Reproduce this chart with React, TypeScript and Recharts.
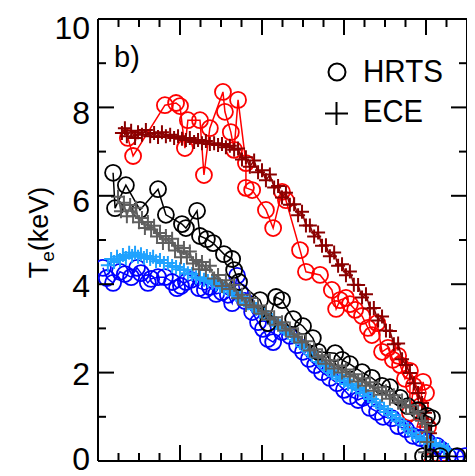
import React from 'react';
import { ScatterChart, Scatter, XAxis, YAxis } from 'recharts';

// normalised radius (rho) ticks — unlabeled, majors every 0.25
const rhoTicks = [0, 0.0625, 0.125, 0.1875, 0.25, 0.3125, 0.375, 0.4375, 0.5, 0.5625, 0.625, 0.6875, 0.75, 0.8125, 0.875, 0.9375, 1.0, 1.0625, 1.125];
const teTicks = [0, 1, 2, 3, 4, 5, 6, 7, 8, 9, 10];

// [rho, Te (keV)]
const hrtsRed: [number, number][] = [
  [0.091, 7.31], [0.107, 6.90], [0.204, 8.05], [0.238, 8.10], [0.250, 8.03], [0.265, 7.08], [0.274, 7.71],
  [0.311, 7.71], [0.323, 6.47], [0.341, 7.53], [0.381, 8.35], [0.387, 7.90], [0.405, 7.44], [0.415, 7.04],
  [0.427, 8.17], [0.451, 6.74], [0.451, 6.18], [0.470, 6.13], [0.512, 5.68], [0.534, 5.27], [0.561, 6.09],
  [0.573, 5.90], [0.616, 4.77], [0.634, 4.28], [0.677, 4.21], [0.713, 3.87], [0.726, 3.44], [0.738, 3.64],
  [0.756, 3.69], [0.768, 3.55], [0.784, 3.42], [0.805, 3.28], [0.823, 3.01], [0.835, 2.85], [0.851, 3.12],
  [0.866, 2.47], [0.884, 2.56], [0.899, 2.29], [0.915, 2.38], [0.921, 2.17],
  [0.936, 1.86], [0.951, 2.04], [0.951, 1.09], [0.963, 1.70], [0.982, 1.24], [0.991, 1.79], [1.000, 1.54],
  [0.973, 0.77], [1.006, 0.77], [1.021, 0.02],
];
const redEdge: [number, number][] = [[1.021, 0.0], [1.125, 0.0]];

const eceDarkRed: [number, number][] = [
  [0.073, 7.42], [0.082, 7.53], [0.088, 7.35], [0.101, 7.47], [0.113, 7.31], [0.122, 7.44], [0.134, 7.38],
  [0.146, 7.49], [0.159, 7.35], [0.171, 7.42], [0.183, 7.33], [0.195, 7.44], [0.207, 7.35], [0.220, 7.38],
  [0.232, 7.31], [0.244, 7.35], [0.256, 7.29], [0.268, 7.26], [0.280, 7.31], [0.293, 7.22], [0.305, 7.26],
  [0.317, 7.19], [0.329, 7.24], [0.341, 7.17], [0.354, 7.19], [0.366, 7.15], [0.378, 7.17], [0.390, 7.10],
  [0.402, 7.13], [0.415, 7.04], [0.427, 7.07], [0.439, 6.82], [0.451, 6.87], [0.463, 6.66], [0.476, 6.80],
  [0.488, 6.53], [0.500, 6.58], [0.512, 6.35], [0.524, 6.48], [0.537, 6.19], [0.549, 6.22], [0.561, 5.96],
  [0.573, 6.07], [0.585, 5.80], [0.598, 5.81], [0.610, 5.56], [0.622, 5.64], [0.634, 5.33], [0.646, 5.33],
  [0.659, 5.08], [0.671, 5.17], [0.683, 4.87], [0.695, 4.88], [0.707, 4.63], [0.720, 4.72], [0.732, 4.42],
  [0.744, 4.45], [0.756, 4.20], [0.768, 4.29], [0.780, 3.99], [0.793, 3.98], [0.805, 3.70], [0.817, 3.77],
  [0.829, 3.45], [0.841, 3.46], [0.854, 3.18], [0.866, 3.27], [0.878, 2.95], [0.890, 2.94], [0.902, 2.64],
  [0.915, 2.66], [0.927, 2.30], [0.939, 2.17], [0.951, 1.99], [0.963, 1.76], [0.976, 1.54], [0.988, 1.31],
  [0.997, 1.09], [1.006, 0.86], [1.012, 0.63], [1.018, 0.41], [1.021, 0.20],
];

const hrtsBlue: [number, number][] = [
  [0.015, 4.37], [0.027, 4.14], [0.046, 4.03], [0.067, 4.28], [0.082, 4.23], [0.101, 4.16], [0.119, 4.37],
  [0.131, 4.25], [0.152, 4.03], [0.162, 4.12], [0.183, 4.16], [0.204, 4.16], [0.226, 4.05], [0.241, 3.91],
  [0.253, 3.96], [0.268, 4.05], [0.284, 4.10], [0.308, 3.91], [0.326, 3.87], [0.341, 3.94], [0.360, 3.78],
  [0.378, 3.82], [0.396, 3.76], [0.409, 3.57], [0.424, 4.19], [0.433, 3.82], [0.448, 3.62], [0.470, 3.37],
  [0.488, 3.14], [0.503, 2.99], [0.518, 2.76], [0.534, 2.69], [0.561, 2.92], [0.585, 2.83], [0.607, 2.62],
  [0.625, 2.47], [0.643, 2.31], [0.662, 2.17], [0.683, 2.01], [0.707, 1.88], [0.729, 1.76], [0.750, 1.61],
  [0.768, 1.47], [0.793, 1.38], [0.808, 1.43], [0.829, 1.20], [0.851, 1.11], [0.869, 1.00], [0.896, 0.97],
  [0.915, 0.79], [0.939, 0.72], [0.960, 0.57], [0.982, 0.52], [1.006, 0.43], [1.034, 0.34], [1.049, 0.25],
  [1.067, 0.11], [1.091, 0.09], [1.119, 0.11],
];

const eceLightBlue: [number, number][] = [
  [0.030, 4.43], [0.040, 4.57], [0.049, 4.50], [0.058, 4.62], [0.067, 4.55], [0.076, 4.66], [0.085, 4.59],
  [0.095, 4.71], [0.104, 4.64], [0.113, 4.71], [0.122, 4.62], [0.131, 4.68], [0.140, 4.59], [0.149, 4.64],
  [0.159, 4.57], [0.168, 4.62], [0.177, 4.52], [0.189, 4.55], [0.201, 4.48], [0.213, 4.48], [0.226, 4.41],
  [0.238, 4.39], [0.250, 4.34], [0.262, 4.32], [0.274, 4.25], [0.287, 4.23], [0.299, 4.16], [0.311, 4.14],
  [0.323, 4.10], [0.335, 4.07], [0.348, 4.03], [0.360, 4.00], [0.372, 3.96], [0.384, 3.91], [0.396, 3.87],
  [0.409, 3.82], [0.421, 3.76], [0.433, 3.71], [0.445, 3.64], [0.457, 3.57], [0.470, 3.51], [0.482, 3.44],
  [0.494, 3.37], [0.506, 3.33], [0.518, 3.26], [0.530, 3.19], [0.543, 3.12], [0.555, 3.05], [0.567, 2.99],
  [0.579, 2.90], [0.591, 2.83], [0.604, 2.74], [0.616, 2.67], [0.628, 2.58], [0.640, 2.49], [0.652, 2.40],
  [0.665, 2.33], [0.677, 2.24], [0.689, 2.15], [0.701, 2.06], [0.713, 1.99], [0.726, 1.92], [0.738, 1.86],
  [0.750, 1.81], [0.762, 1.74], [0.774, 1.70], [0.787, 1.65], [0.799, 1.61], [0.811, 1.54], [0.823, 1.47],
  [0.835, 1.40], [0.848, 1.33], [0.860, 1.24], [0.872, 1.18], [0.884, 1.11], [0.896, 1.04], [0.909, 0.97],
  [0.921, 0.90], [0.933, 0.81], [0.945, 0.72], [0.957, 0.63], [0.970, 0.57], [0.982, 0.52], [0.994, 0.48],
  [1.006, 0.45], [1.018, 0.41], [1.030, 0.38], [1.043, 0.34], [1.055, 0.29], [1.067, 0.25],
];

const hrtsBlack: [number, number][] = [
  [0.046, 6.52], [0.052, 5.72], [0.085, 6.24], [0.128, 5.68], [0.183, 6.15], [0.207, 5.57], [0.256, 5.36], [0.268, 5.27],
  [0.302, 5.66], [0.311, 5.09], [0.332, 5.02], [0.351, 4.93], [0.384, 4.68], [0.409, 4.57], [0.415, 4.32],
  [0.430, 4.05], [0.494, 3.64], [0.518, 3.12], [0.543, 3.71], [0.561, 3.64], [0.595, 3.21], [0.625, 3.05],
  [0.655, 2.78], [0.671, 2.47], [0.723, 2.44], [0.744, 2.29], [0.768, 2.19], [0.805, 2.01], [0.835, 1.88],
  [0.866, 1.70], [0.890, 1.67], [0.921, 1.43], [0.945, 1.24], [0.976, 1.15], [1.003, 1.02], [1.018, 0.97],
  [1.012, 0.09], [0.991, 0.11], [1.043, 0.11], [1.095, 0.11],
];

const eceGray: [number, number][] = [
  [0.061, 5.98], [0.070, 5.65], [0.079, 5.84], [0.088, 5.54], [0.098, 5.79], [0.107, 5.54], [0.116, 5.73],
  [0.125, 5.40], [0.134, 5.50], [0.143, 5.27], [0.152, 5.41], [0.162, 5.24], [0.171, 5.32], [0.180, 5.08],
  [0.189, 5.16], [0.198, 4.93], [0.207, 5.09], [0.216, 4.93], [0.226, 5.03], [0.235, 4.76], [0.244, 4.87],
  [0.253, 4.61], [0.262, 4.82], [0.271, 4.61], [0.280, 4.74], [0.290, 4.47], [0.299, 4.55], [0.308, 4.34],
  [0.317, 4.50], [0.329, 4.32], [0.341, 4.42], [0.354, 4.13], [0.366, 4.21], [0.378, 3.96], [0.390, 4.09],
  [0.402, 3.89], [0.415, 3.99], [0.427, 3.68], [0.439, 3.76], [0.451, 3.53], [0.463, 3.69], [0.476, 3.48],
  [0.488, 3.52], [0.500, 3.33], [0.512, 3.39], [0.524, 3.20], [0.537, 3.25], [0.549, 3.08], [0.561, 3.14],
  [0.573, 2.95], [0.585, 3.00], [0.598, 2.81], [0.610, 2.87], [0.622, 2.68], [0.634, 2.71], [0.646, 2.50],
  [0.659, 2.53], [0.671, 2.34], [0.683, 2.39], [0.695, 2.20], [0.707, 2.28], [0.720, 2.09], [0.732, 2.16],
  [0.744, 2.00], [0.756, 2.07], [0.768, 1.91], [0.780, 1.96], [0.793, 1.80], [0.805, 1.87], [0.817, 1.70],
  [0.829, 1.78], [0.841, 1.59], [0.854, 1.67], [0.866, 1.50], [0.878, 1.58], [0.890, 1.41], [0.902, 1.49],
  [0.915, 1.32], [0.927, 1.37], [0.939, 1.21], [0.951, 1.26], [0.963, 1.07], [0.976, 1.12], [0.988, 0.91],
  [0.997, 0.84], [1.003, 0.66], [1.003, 0.43], [0.997, 0.20],
];

const labelOffset: Record<number, number> = { 10: 8, 8: 5, 6: 5, 4: 1, 2: 1, 0: -3 };

const FONT = '"Liberation Sans", Arial, Helvetica, sans-serif';
const toPts = (arr: [number, number][]) => arr.map(([x, y]) => ({ x, y }));

const circleShape = (color: string) => (p: any) => (
  <circle cx={p.cx} cy={p.cy} r={8} fill="none" stroke={color} strokeWidth={1.8} />
);
const plusShape = (color: string) => (p: any) => (
  <path d={`M${p.cx - 7},${p.cy}H${p.cx + 7}M${p.cx},${p.cy - 7}V${p.cy + 7}`} stroke={color} strokeWidth={2} fill="none" />
);
const noShape = () => <g />;

const isMajorRho = (v: number) => Math.round(v / 0.0625) % 4 === 0;

const BottomTick = (p: any) => {
  const len = isMajorRho(p.payload.value) ? 16 : 8;
  return <line x1={p.x} x2={p.x} y1={p.y} y2={p.y - len} stroke="#000" strokeWidth={2} />;
};
const TopTick = (p: any) => {
  const len = isMajorRho(p.payload.value) ? 16 : 8;
  return <line x1={p.x} x2={p.x} y1={p.y} y2={p.y + len} stroke="#000" strokeWidth={2} />;
};
const LeftTick = (p: any) => {
  const v = p.payload.value;
  const major = v % 2 === 0;
  return (
    <g>
      <line x1={p.x} x2={p.x + (major ? 16 : 8)} y1={p.y} y2={p.y} stroke="#000" strokeWidth={2} />
      {major && (
        <text x={p.x - 8} y={p.y + (labelOffset[v] ?? 1) + 11.5} textAnchor="end" fontSize={32} fontFamily={FONT} fill="#000">
          {v}
        </text>
      )}
    </g>
  );
};
const RightTick = (p: any) => {
  const major = p.payload.value % 2 === 0;
  return <line x1={p.x} x2={p.x - (major ? 16 : 8)} y1={p.y} y2={p.y} stroke="#000" strokeWidth={2} />;
};

const W = 467;
const H = 468;

export default function App() {
  const series = [
    { data: hrtsRed, color: '#FF0000', kind: 'o' },
    { data: redEdge, color: '#FF0000', kind: 'none' },
    { data: eceDarkRed, color: '#8B0000', kind: '+' },
    { data: hrtsBlue, color: '#0000FF', kind: 'o' },
    { data: eceLightBlue, color: '#1FA2FF', kind: '+' },
    { data: hrtsBlack, color: '#000000', kind: 'o' },
    { data: eceGray, color: '#5F5F5F', kind: '+' },
  ];
  return (
    <div style={{ position: 'relative', width: W, height: H }}>
      <ScatterChart width={W} height={H} margin={{ top: 0, right: 0, bottom: 0, left: 0 }}>
        <XAxis xAxisId="b" type="number" dataKey="x" domain={[0, 1.125]} ticks={rhoTicks} orientation="bottom"
          height={15} tickSize={0} tickMargin={0} tickLine={false} interval={0}
          axisLine={{ stroke: '#000', strokeWidth: 2 }} tick={BottomTick} allowDataOverflow />
        <XAxis xAxisId="t" type="number" dataKey="x" domain={[0, 1.125]} ticks={rhoTicks} orientation="top"
          height={11} tickSize={0} tickMargin={0} tickLine={false} interval={0}
          axisLine={{ stroke: '#000', strokeWidth: 2 }} tick={TopTick} allowDataOverflow />
        <YAxis yAxisId="l" type="number" dataKey="y" domain={[0, 10]} ticks={teTicks} orientation="left"
          width={90} tickSize={0} tickMargin={0} tickLine={false} interval={0}
          axisLine={{ stroke: '#000', strokeWidth: 2 }} tick={LeftTick} allowDataOverflow />
        <YAxis yAxisId="r" type="number" dataKey="y" domain={[0, 10]} ticks={teTicks} orientation="right"
          width={8} tickSize={0} tickMargin={0} tickLine={false} interval={0}
          axisLine={{ stroke: '#000', strokeWidth: 2 }} tick={RightTick} allowDataOverflow />
        {series.map((s, i) => (
          <Scatter key={i} xAxisId="b" yAxisId="l" data={toPts(s.data)} isAnimationActive={false}
            line={{ stroke: s.color, strokeWidth: 1.5 }}
            shape={s.kind === 'o' ? circleShape(s.color) : s.kind === '+' ? plusShape(s.color) : noShape} />
        ))}
      </ScatterChart>
      <svg width={W} height={H} style={{ position: 'absolute', left: 0, top: 0, pointerEvents: 'none' }}>
        <text x={106} y={59} fontSize={29} fontFamily={FONT} fill="#000">b)</text>
        <circle cx={329} cy={64} r={8.5} fill="none" stroke="#000" strokeWidth={2} />
        <path d="M317,105.5H340M328.5,94V117" stroke="#000" strokeWidth={2} fill="none" />
        <text x={355} y={74} fontSize={31} fontFamily={FONT} fill="#000" textLength={80} lengthAdjust="spacingAndGlyphs">HRTS</text>
        <text x={355} y={114} fontSize={31} fontFamily={FONT} fill="#000" textLength={60} lengthAdjust="spacingAndGlyphs">ECE</text>
        <text transform="translate(40,224.5) rotate(-90)" textAnchor="middle" fontSize={27} fontFamily={FONT} fill="#000">
          T<tspan fontSize={19} dy={6}>e</tspan><tspan dy={-6}>(keV)</tspan>
        </text>
      </svg>
    </div>
  );
}
